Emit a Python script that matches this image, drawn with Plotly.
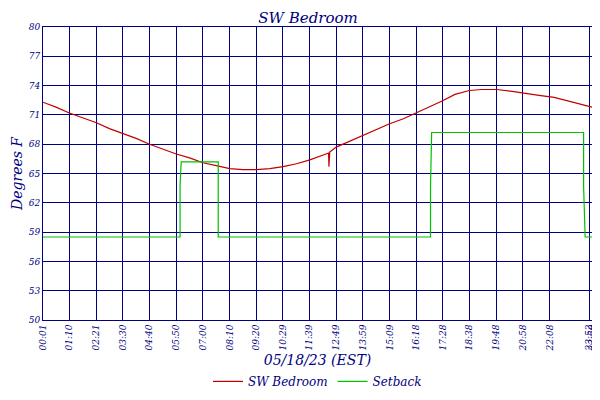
import plotly.graph_objects as go

# time (minutes since midnight) and temperatures
temp_time = [1, 35, 70, 105, 141, 175, 210, 245, 280, 315, 350, 385, 420, 455, 490, 525, 560,
             595, 630, 665, 700, 735, 749, 750, 752, 769, 805, 839, 875, 909, 945, 978,
             1010, 1045, 1080, 1118, 1150, 1190, 1230, 1260, 1300, 1340, 1380, 1420, 1439]
temp_vals = [72.3, 71.8, 71.2, 70.7, 70.2, 69.6, 69.1, 68.6, 68.0, 67.5, 67.0, 66.6, 66.1, 65.8, 65.5, 65.4, 65.4,
             65.5, 65.7, 66.0, 66.4, 66.9, 67.1, 65.7, 67.2, 67.7, 68.3, 68.9, 69.5, 70.1, 70.6, 71.2,
             71.7, 72.4, 73.1, 73.5, 73.6, 73.6, 73.4, 73.2, 73.0, 72.8, 72.4, 72.0, 71.8]

setback_time = [1, 360, 360, 363, 460, 460, 1016, 1016, 1019, 1417, 1417, 1421, 1439]
setback_vals = [58.5, 58.5, 63.7, 66.2, 66.2, 58.5, 58.5, 63.7, 69.2, 69.2, 63.7, 58.5, 58.5]

tick_min = [1, 70, 141, 210, 280, 350, 420, 490, 560, 629, 699, 769, 839, 909, 978,
            1048, 1118, 1188, 1258, 1328, 1432, 1439]
tick_text = ["00:01", "01:10", "02:21", "03:30", "04:40", "05:50", "07:00", "08:10", "09:20",
             "10:29", "11:39", "12:49", "13:59", "15:09", "16:18", "17:28", "18:38", "19:48",
             "20:58", "22:08", "23:52", "23:59"]
y_ticks = [50, 53, 56, 59, 62, 65, 68, 71, 74, 77, 80]

navy = "#000080"
font_fam = "DejaVu Serif"

fig = go.Figure()
fig.add_trace(go.Scatter(x=temp_time, y=temp_vals, mode="lines", name="<i>SW Bedroom</i>",
                         line=dict(color="#c00000", width=1.2)))
fig.add_trace(go.Scatter(x=setback_time, y=setback_vals, mode="lines", name="<i>Setback</i>",
                         line=dict(color="#00c000", width=1.2)))
# invisible trace to get the right-hand y axis labels
fig.add_trace(go.Scatter(x=[1], y=[50], yaxis="y2", showlegend=False, hoverinfo="skip",
                         mode="markers", marker=dict(opacity=0)))

fig.update_layout(
    width=600, height=400,
    paper_bgcolor="white", plot_bgcolor="white",
    margin=dict(l=35, r=16, t=19, b=67),
    title=dict(text="<i>SW Bedroom</i>", x=0.5, y=0.99, yanchor="top",
               font=dict(family=font_fam, size=15, color=navy)),
    font=dict(family=font_fam, color=navy, size=10),
    xaxis=dict(range=[1, 1439], tickvals=tick_min, automargin=False,
               ticktext=[f"<i>{t}</i>" for t in tick_text], tickangle=-90,
               showgrid=True, gridcolor=navy, gridwidth=1, linecolor=navy,
               mirror=True, showline=True, zeroline=False, tickfont=dict(size=9),
               title=dict(text="<i>05/18/23 (EST)</i>", font=dict(size=14), standoff=4)),
    yaxis=dict(range=[50, 80], tickvals=y_ticks, automargin=False,
               ticktext=[f"<i>{v}</i>" for v in y_ticks],
               showgrid=True, gridcolor=navy, gridwidth=1, linecolor=navy,
               mirror=True, showline=True, zeroline=False, tickfont=dict(size=9),
               title=dict(text="<i>Degrees F</i>", font=dict(size=14), standoff=2)),
    yaxis2=dict(range=[50, 80], tickvals=y_ticks, automargin=False,
                ticktext=[f"<i>{v}</i>" for v in y_ticks],
                overlaying="y", side="right", showgrid=False, zeroline=False,
                tickfont=dict(size=9)),
    legend=dict(orientation="h", x=0.5, xanchor="center", y=-0.16, yanchor="top",
                font=dict(size=12), itemwidth=30),
)

fig.write_html("out.html")
